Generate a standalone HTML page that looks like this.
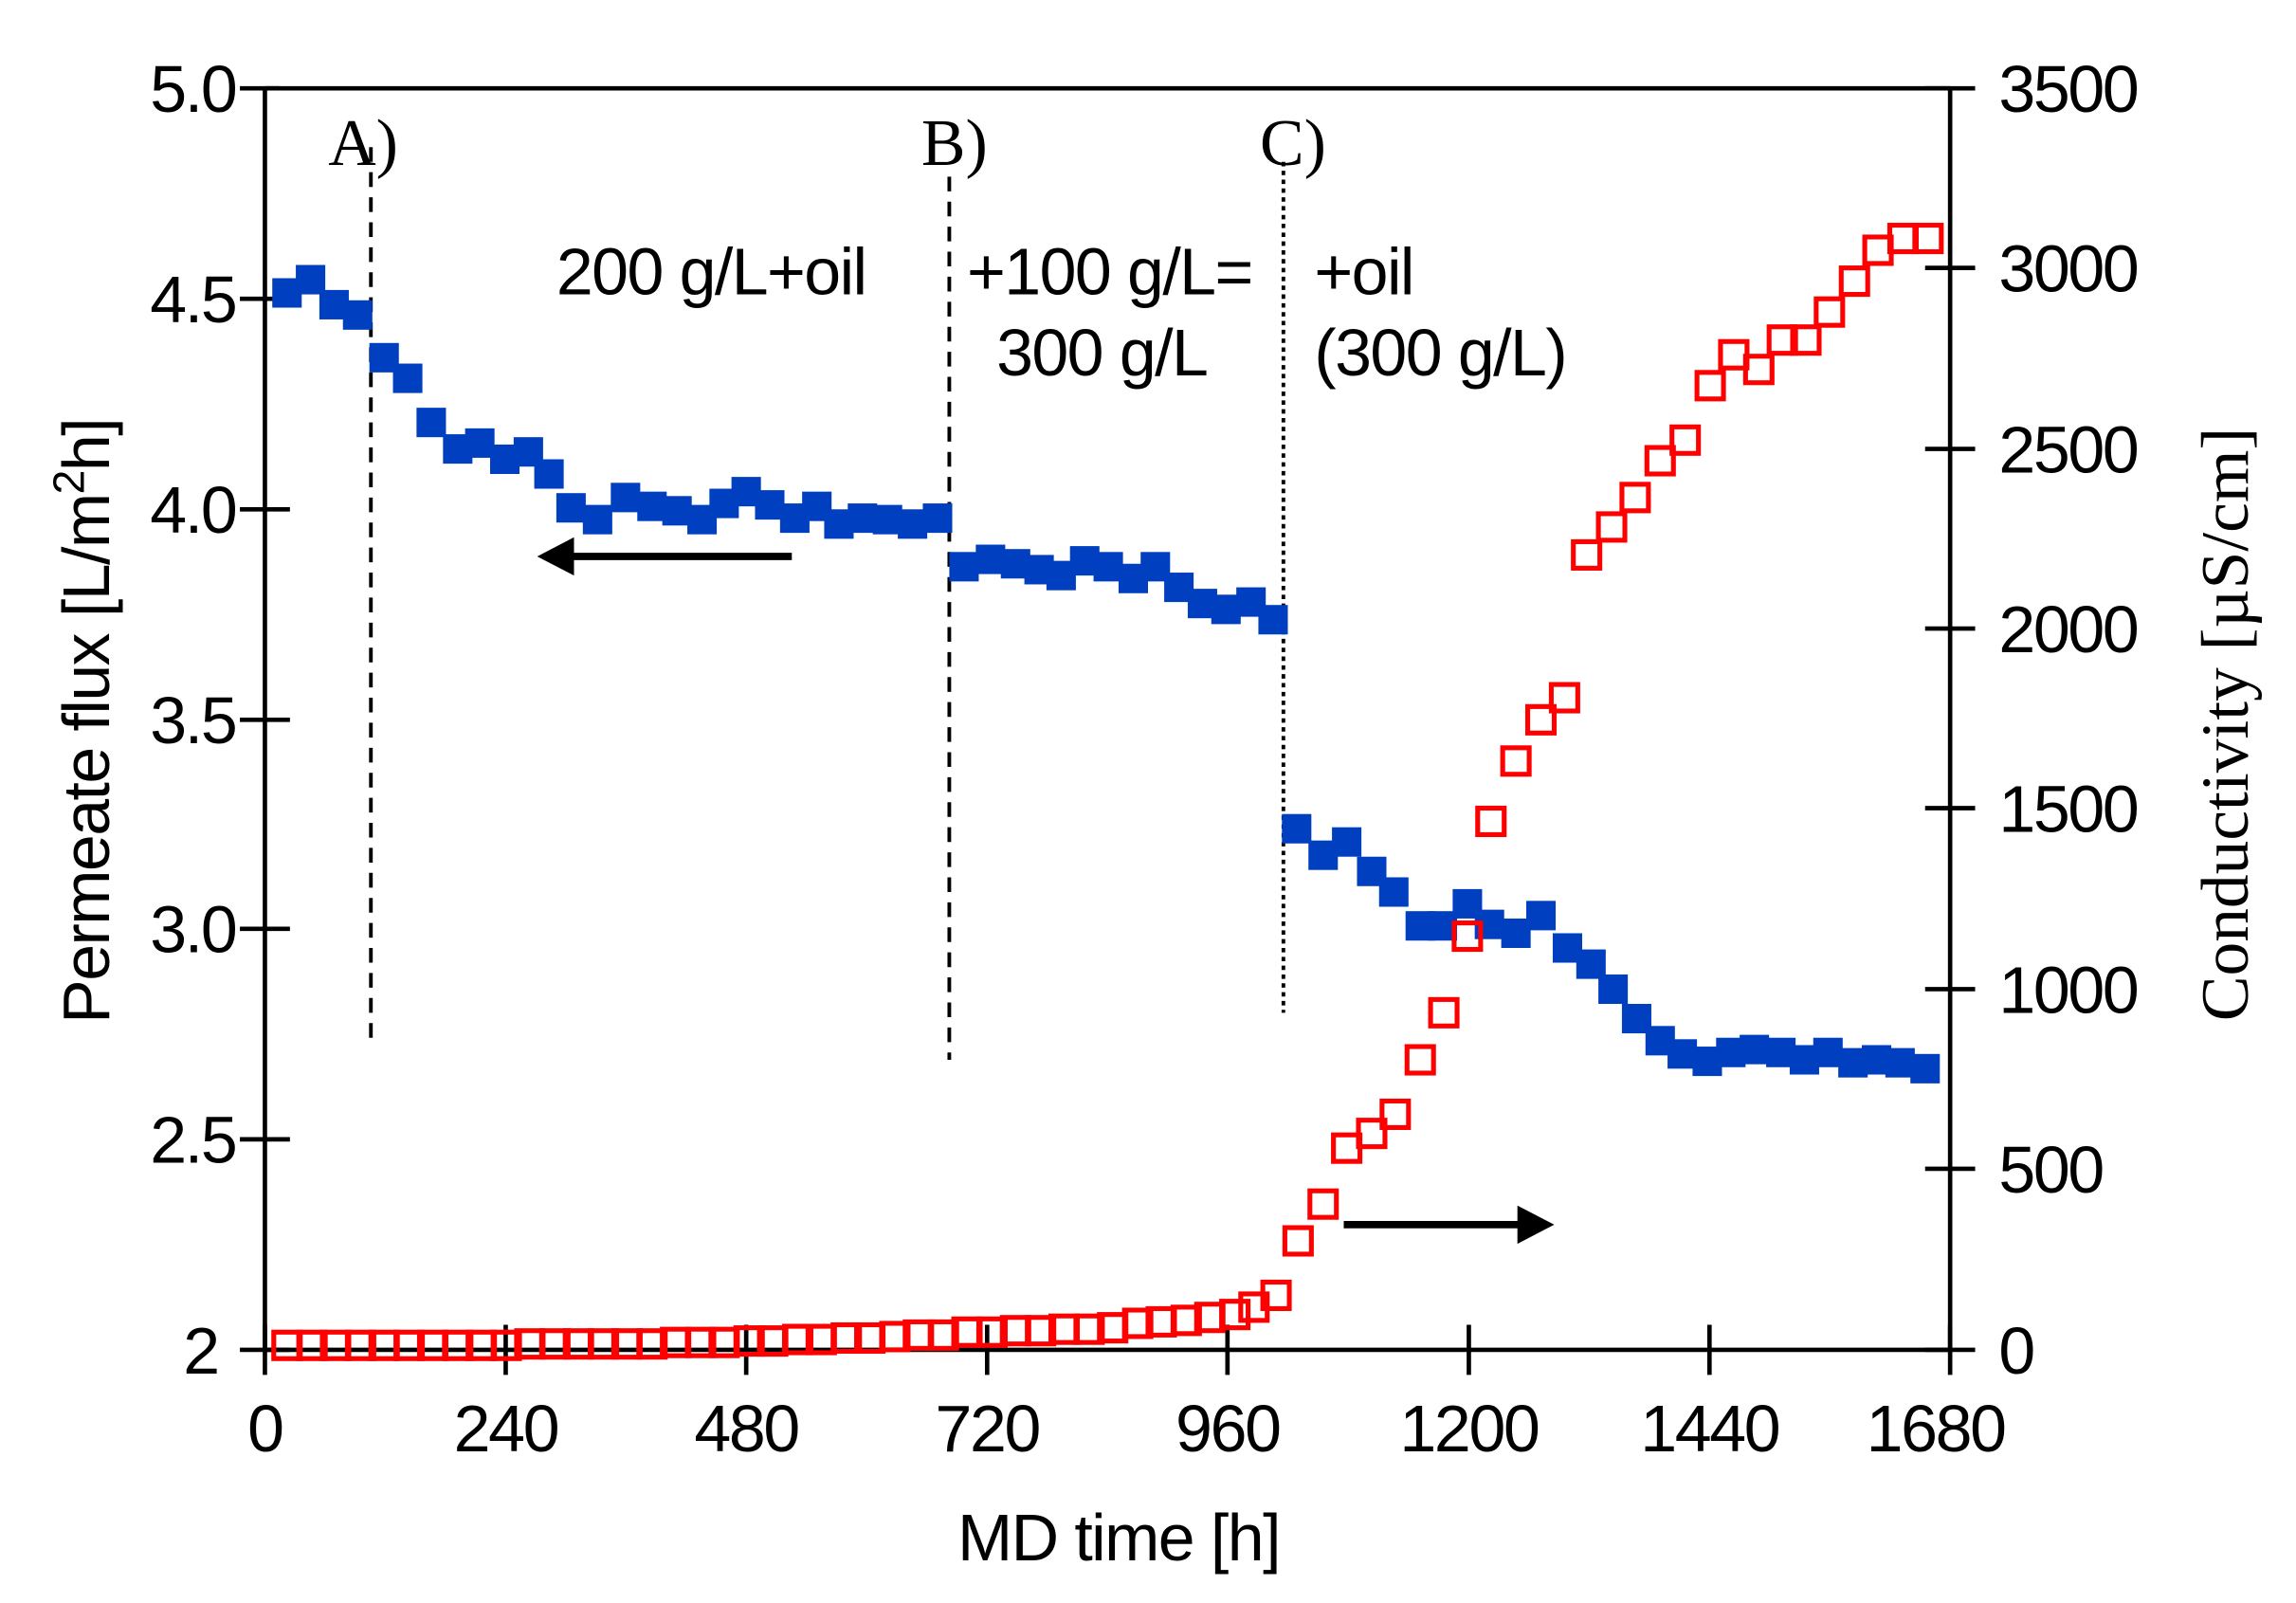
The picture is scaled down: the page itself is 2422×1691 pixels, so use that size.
<!DOCTYPE html>
<html><head><meta charset="utf-8"><style>
html,body{margin:0;padding:0;background:#fff}
svg{display:block}
text{font-family:"Liberation Sans",Arial,sans-serif;fill:#000}
.s{font-family:"Liberation Serif","Times New Roman",serif}
</style></head><body>
<svg width="2422" height="1691" viewBox="0 0 1560 1089" preserveAspectRatio="none" xmlns="http://www.w3.org/2000/svg">
<defs>
<rect id="b" x="-10" y="-10" width="20" height="20" fill="#0040c0"/>
<rect id="r" x="-9" y="-9" width="18" height="18" fill="none" stroke="#ff0000" stroke-width="3.3"/>
</defs>
<g stroke="#000" stroke-width="3" fill="none">
<line x1="180" y1="60" x2="1325" y2="60"/>
<line x1="180" y1="60" x2="180" y2="917"/>
<line x1="1325" y1="60" x2="1325" y2="917"/>
<line x1="180" y1="917" x2="1325" y2="917"/>
<path d="M163 60H190M163 203H197M163 346H197M163 489H197M163 631H197M163 774H197M163 917H197"/>
<path d="M1308 60H1342M1308 182H1342M1308 305H1342M1308 427H1342M1308 549H1342M1308 672H1342M1308 794H1342M1308 917H1342"/>
<path d="M180 900V934M343.6 900V934M507 900V934M670.7 900V934M834 900V934M998 900V934M1161.5 900V934M1325 900V934"/>
</g>
<g font-size="45" text-anchor="end" letter-spacing="-1.5">
<text x="160" y="76">5.0</text>
<text x="160" y="219">4.5</text>
<text x="160" y="362">4.0</text>
<text x="160" y="505">3.5</text>
<text x="160" y="647">3.0</text>
<text x="160" y="790">2.5</text>
<text x="148" y="933">2</text>
</g>
<g font-size="45" text-anchor="start" letter-spacing="-1.5">
<text x="1358" y="76">3500</text>
<text x="1358" y="198">3000</text>
<text x="1358" y="321">2500</text>
<text x="1358" y="443">2000</text>
<text x="1358" y="565">1500</text>
<text x="1358" y="688">1000</text>
<text x="1358" y="810">500</text>
<text x="1358" y="933">0</text>
</g>
<g font-size="45" text-anchor="middle" letter-spacing="-1.5">
<text x="180" y="986">0</text>
<text x="343.6" y="986">240</text>
<text x="507" y="986">480</text>
<text x="670.7" y="986">720</text>
<text x="834" y="986">960</text>
<text x="998" y="986">1200</text>
<text x="1161.5" y="986">1440</text>
<text x="1315" y="986">1680</text>
</g>
<text x="760" y="1060" font-size="45" text-anchor="middle" letter-spacing="-1">MD time [h]</text>
<text transform="translate(74,490) rotate(-90)" font-size="45" text-anchor="middle" letter-spacing="-1">Permeate flux [L/m<tspan font-size="30" dy="-17">2</tspan><tspan dy="17">h]</tspan></text>
<text class="s" transform="translate(1527,492) rotate(-90)" font-size="46" text-anchor="middle">Conductivity [µS/cm]</text>
<g stroke="#000" stroke-width="2.5" fill="none">
<line x1="252" y1="100" x2="252" y2="707" stroke-dasharray="10,7"/>
<line x1="645" y1="120" x2="645" y2="720" stroke-dasharray="10,7"/>
<line x1="872" y1="110" x2="872" y2="688" stroke-dasharray="3,3"/>
</g>
<text class="s" x="223" y="112" font-size="45">A)</text>
<text class="s" x="626" y="112" font-size="45">B)</text>
<text class="s" x="856" y="112" font-size="45">C)</text>
<g font-size="45" letter-spacing="-1">
<text x="378" y="200">200 g/L+oil</text>
<text x="657" y="200">+100 g/L=</text>
<text x="677" y="255">300 g/L</text>
<text x="893" y="200">+oil</text>
<text x="893" y="255">(300 g/L)</text>
</g>
<line x1="538" y1="378" x2="385" y2="378" stroke="#000" stroke-width="5"/>
<polygon points="365,378 390,365 390,391" fill="#000"/>
<line x1="913" y1="832" x2="1035" y2="832" stroke="#000" stroke-width="5"/>
<polygon points="1056,832 1031,819 1031,845" fill="#000"/>
<g>
<use href="#b" x="195" y="199"/><use href="#b" x="211" y="190"/><use href="#b" x="227" y="207"/><use href="#b" x="243" y="214"/>
<use href="#b" x="261" y="243"/><use href="#b" x="277" y="257"/><use href="#b" x="293" y="287"/><use href="#b" x="311" y="305"/>
<use href="#b" x="326" y="301"/><use href="#b" x="343" y="312"/><use href="#b" x="359" y="307"/><use href="#b" x="373" y="322"/>
<use href="#b" x="388" y="345"/><use href="#b" x="406" y="353"/><use href="#b" x="425" y="338"/><use href="#b" x="443" y="344"/>
<use href="#b" x="460" y="347"/><use href="#b" x="477" y="353"/><use href="#b" x="492" y="342"/><use href="#b" x="507" y="334"/>
<use href="#b" x="523" y="343"/><use href="#b" x="540" y="352"/><use href="#b" x="555" y="344"/><use href="#b" x="570" y="356"/>
<use href="#b" x="586" y="352"/><use href="#b" x="603" y="353"/><use href="#b" x="620" y="356"/><use href="#b" x="637" y="352"/>
<use href="#b" x="655" y="385"/><use href="#b" x="673" y="380"/><use href="#b" x="690" y="383"/><use href="#b" x="706" y="387"/>
<use href="#b" x="721" y="391"/><use href="#b" x="737" y="381"/><use href="#b" x="753" y="385"/><use href="#b" x="770" y="393"/>
<use href="#b" x="785" y="385"/><use href="#b" x="801" y="399"/><use href="#b" x="817" y="410"/><use href="#b" x="833" y="414"/>
<use href="#b" x="850" y="409"/><use href="#b" x="865" y="421"/>
<use href="#b" x="881" y="563"/><use href="#b" x="899" y="581"/><use href="#b" x="915" y="572"/><use href="#b" x="932" y="592"/>
<use href="#b" x="947" y="606"/><use href="#b" x="965" y="629"/><use href="#b" x="980" y="629"/><use href="#b" x="997" y="614"/>
<use href="#b" x="1012" y="628"/><use href="#b" x="1030" y="634"/><use href="#b" x="1047" y="622"/><use href="#b" x="1065" y="644"/>
<use href="#b" x="1081" y="655"/><use href="#b" x="1096" y="672"/><use href="#b" x="1112" y="692"/><use href="#b" x="1128" y="707"/>
<use href="#b" x="1143" y="716"/><use href="#b" x="1160" y="721"/><use href="#b" x="1176" y="715"/><use href="#b" x="1192" y="713"/>
<use href="#b" x="1210" y="715"/><use href="#b" x="1226" y="720"/><use href="#b" x="1242" y="715"/><use href="#b" x="1259" y="722"/>
<use href="#b" x="1275" y="720"/><use href="#b" x="1291" y="722"/><use href="#b" x="1308" y="726"/>
</g>
<g>
<use href="#r" x="195" y="914"/><use href="#r" x="212" y="914"/><use href="#r" x="228" y="914"/><use href="#r" x="245" y="914"/>
<use href="#r" x="261" y="914"/><use href="#r" x="278" y="914"/><use href="#r" x="294" y="914"/><use href="#r" x="311" y="914"/>
<use href="#r" x="327" y="914"/><use href="#r" x="344" y="914"/><use href="#r" x="360" y="913"/><use href="#r" x="377" y="913"/>
<use href="#r" x="393" y="913"/><use href="#r" x="410" y="913"/><use href="#r" x="426" y="913"/><use href="#r" x="443" y="913"/>
<use href="#r" x="459" y="912"/><use href="#r" x="476" y="912"/><use href="#r" x="492" y="912"/><use href="#r" x="509" y="911"/>
<use href="#r" x="525" y="911"/><use href="#r" x="542" y="910"/><use href="#r" x="558" y="910"/><use href="#r" x="575" y="909"/>
<use href="#r" x="591" y="909"/><use href="#r" x="608" y="908"/><use href="#r" x="624" y="907"/><use href="#r" x="641" y="907"/>
<use href="#r" x="657" y="905"/><use href="#r" x="674" y="905"/><use href="#r" x="690" y="904"/><use href="#r" x="707" y="904"/>
<use href="#r" x="723" y="903"/><use href="#r" x="740" y="903"/><use href="#r" x="756" y="902"/><use href="#r" x="773" y="899"/>
<use href="#r" x="789" y="898"/><use href="#r" x="806" y="897"/><use href="#r" x="822" y="895"/><use href="#r" x="839" y="893"/>
<use href="#r" x="852" y="888"/><use href="#r" x="867" y="880"/>
<use href="#r" x="882" y="843"/><use href="#r" x="899" y="818"/><use href="#r" x="915" y="780"/><use href="#r" x="932" y="770"/>
<use href="#r" x="948" y="757"/><use href="#r" x="965" y="720"/><use href="#r" x="981" y="688"/><use href="#r" x="997" y="636"/>
<use href="#r" x="1013" y="558"/><use href="#r" x="1030" y="517"/><use href="#r" x="1047" y="489"/><use href="#r" x="1063" y="474"/>
<use href="#r" x="1078" y="377"/><use href="#r" x="1095" y="358"/><use href="#r" x="1111" y="338"/><use href="#r" x="1128" y="313"/>
<use href="#r" x="1145" y="299"/><use href="#r" x="1162" y="262"/><use href="#r" x="1178" y="241"/><use href="#r" x="1195" y="251"/>
<use href="#r" x="1211" y="231"/><use href="#r" x="1227" y="231"/><use href="#r" x="1243" y="212"/><use href="#r" x="1260" y="191"/>
<use href="#r" x="1276" y="170"/><use href="#r" x="1293" y="162"/><use href="#r" x="1310" y="162"/>
</g>
</svg>
</body></html>
